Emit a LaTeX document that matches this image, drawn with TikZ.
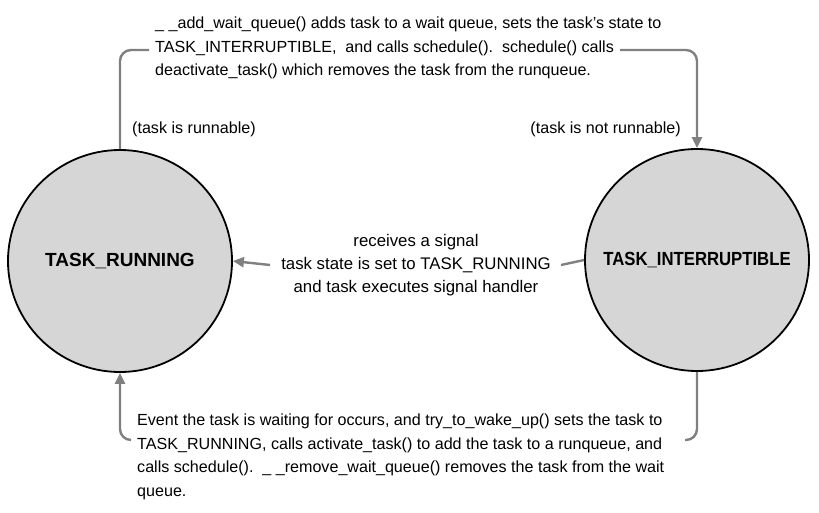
\documentclass[tikz,border=0pt]{standalone}
\usepackage{fontspec}
\setmainfont{Liberation Sans}
\newfontfamily\narrowbold[FakeStretch=0.88]{Liberation Sans}
\usetikzlibrary{shapes.geometric,arrows.meta}
\definecolor{conn}{RGB}{128,128,128}
\definecolor{statefill}{RGB}{214,214,214}
\tikzset{
  state/.style={ellipse,draw=black,line width=1.8pt,fill=statefill,inner sep=0pt,
    minimum width=224pt,minimum height=222pt},
  statelabel/.style={font=\fontsize{19}{22}\selectfont\bfseries,inner sep=0pt},
  conn/.style={draw=conn,line width=2.4pt,rounded corners=11pt},
  arr/.style={-{Triangle[length=11pt,width=10pt]}},
  txt/.style={inner sep=0pt,align=left,font=\fontsize{16.1}{23.5}\selectfont,text=black},
  ctxt/.style={inner sep=0pt,align=center,font=\fontsize{16.8}{23}\selectfont,text=black}
}
\begin{document}
\begin{tikzpicture}[x=1pt,y=-1pt]
\useasboundingbox (0,0) rectangle (819,512);
\node[state,label={[statelabel]center:TASK\_RUNNING}] (L) at (120,261) {};
\node[state,label={[statelabel]center:\narrowbold TASK\_INTERRUPTIBLE}] (R) at (697,260) {};
% top text
\node[txt,anchor=north west] (top) at (155,17) {\_ \_add\_wait\_queue() adds task to a wait queue, sets the task’s state to\\
TASK\_INTERRUPTIBLE,\ \ and calls schedule().\ \ schedule() calls\\
deactivate\_task() which removes the task from the runqueue.};
\coordinate (ts) at (149,50);
\coordinate (te) at (620,50);
\draw[conn] (L.north) |- (ts);
\draw[conn,arr] (te) -| (R.north);
\node[txt,anchor=base west] (lr) at (132,133) {(task is runnable)};
\node[txt,anchor=base east] (lnr) at (681,133) {(task is not runnable)};
% middle
\node[ctxt] (mid) at (416,265) {receives a signal\\task state is set to TASK\_RUNNING\\and task executes signal handler};
\coordinate (ms) at (561,265);
\coordinate (me) at (270,265);
\draw[conn] (R.west) -- (ms);
\draw[conn,arr] (me) -- (L.east);
% bottom text
\node[txt,anchor=north west] (bot) at (137,414) {Event the task is waiting for occurs, and try\_to\_wake\_up() sets the task to\\
TASK\_RUNNING, calls activate\_task() to add the task to a runqueue, and\\
calls schedule().\ \ \_ \_remove\_wait\_queue() removes the task from the wait\\
queue.};
\coordinate (bs) at (685,440);
\coordinate (be) at (131,440);
\draw[conn] (R.south) |- (bs);
\draw[conn,arr] (be) -| (L.south);
\end{tikzpicture}
\end{document}
